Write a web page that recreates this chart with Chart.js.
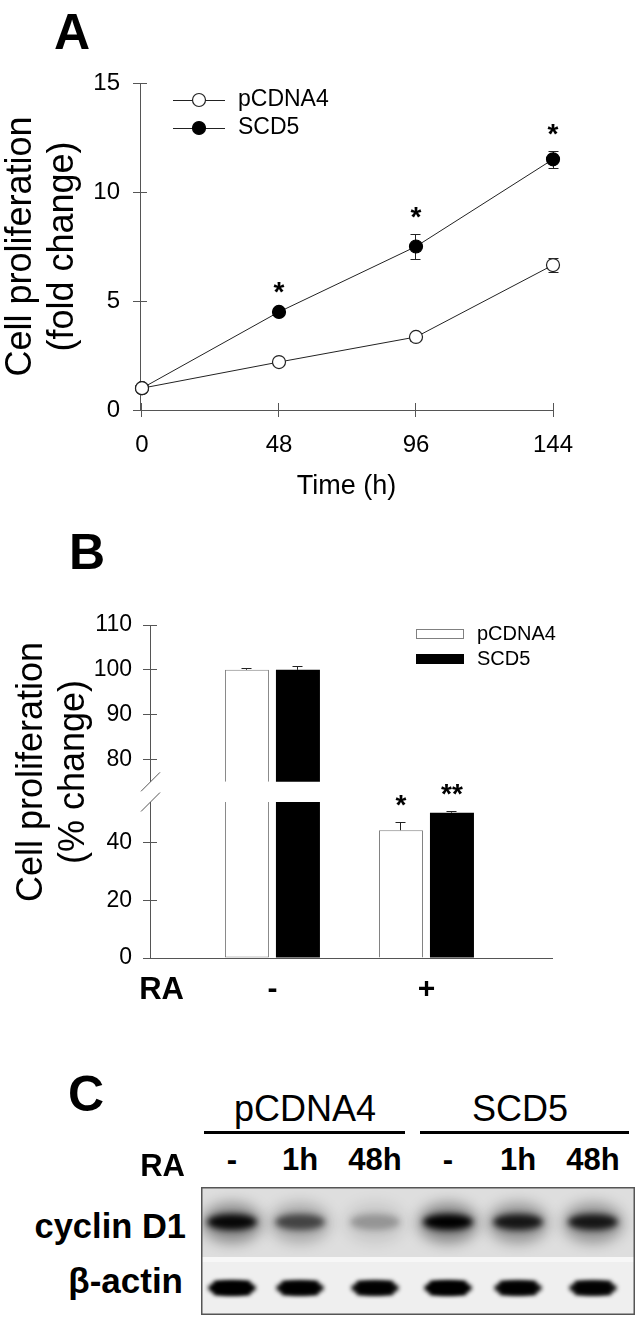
<!DOCTYPE html>
<html>
<head>
<meta charset="utf-8">
<script src="https://cdn.jsdelivr.net/npm/chart.js@4.4.1/dist/chart.umd.min.js"></script>
<style>
body { margin: 0; background: #fff; }
#page { position: relative; width: 642px; height: 1322px; overflow: hidden; background: #fff; color: #000; font-family: 'Liberation Sans', Arial, sans-serif; }
#page canvas { position: absolute; }
.t { position: absolute; line-height: 1; white-space: nowrap; }
</style>
</head>
<body>
<div id="page">
  <canvas id="chartA" width="642" height="500" style="left:0;top:0"></canvas>
  <canvas id="chartB" width="642" height="510" style="left:0;top:500px"></canvas>
  <canvas id="blot" width="434" height="128" style="left:201px;top:1187px"></canvas>
</div>
<script>
// ---- panel A: proliferation over time
const A_HOURS = [0, 48, 96, 144];
const A_PCDNA4 = [1.0, 2.2, 3.35, 6.65];
const A_PCDNA4_ERR = [0.05, 0.1, 0.18, 0.3];
const A_SCD5 = [1.0, 4.5, 7.5, 11.5];
const A_SCD5_ERR = [0.05, 0.12, 0.57, 0.38];
const A_SCD5_SIG = ['', '*', '*', '*'];
const A_Y_TICKS = [0, 5, 10, 15];

// ---- panel B: RA treatment (% change), broken y axis
const B_GROUPS = ['-', '+'];
const B_PCDNA4 = [100, 44.2];
const B_PCDNA4_ERR = [0.4, 2.8];
const B_PCDNA4_SIG = ['', '*'];
const B_SCD5 = [100, 50.3];
const B_SCD5_ERR = [0.9, 0.7];
const B_SCD5_SIG = ['', '**'];
const B_LOWER_TICKS = [0, 20, 40];
const B_UPPER_TICKS = [80, 90, 100, 110];

// ---- panel C: western blot
const C_GROUPS = ['pCDNA4', 'SCD5'];
const C_LANES = ['-', '1h', '48h', '-', '1h', '48h'];
const C_CYCLIN = [0.95, 0.6, 0.25, 1.0, 0.85, 0.85];
const C_ACTIN = [1.0, 0.95, 0.92, 1.0, 0.92, 0.9];

// axis break of panel B
const LOW_MAX = 54, HIGH_MIN = 70.5, BAR_RESTART = 75, HIGH_MAX = 110;

const FONT = "'Liberation Sans', Arial, sans-serif";
const AXIS = '#555';
Chart.defaults.font.family = FONT;
Chart.defaults.color = '#000';

// tick marks that also reach inside the plot (the library only draws the outer half)
const crossTicks = {
  id: 'crossTicks',
  afterDraw(chart, args, o) {
    const ctx = chart.ctx;
    ctx.save();
    ctx.strokeStyle = AXIS;
    ctx.lineWidth = 1;
    Object.values(chart.scales).forEach(s => {
      if (s.options.grid.drawTicks === false) return;
      s.ticks.forEach(t => {
        const p = Math.round(s.getPixelForValue(t.value) - 0.5) + 0.5;
        ctx.beginPath();
        if (s.isHorizontal()) { ctx.moveTo(p, s.top); ctx.lineTo(p, s.top - o.len); }
        else { ctx.moveTo(s.right, p); ctx.lineTo(s.right + o.len, p); }
        ctx.stroke();
      });
    });
    ctx.restore();
  }
};

const errorBars = {
  id: 'errorBars',
  beforeDatasetsDraw(chart, args, o) {
    const ctx = chart.ctx;
    ctx.save();
    ctx.strokeStyle = '#222';
    ctx.lineWidth = 1;
    chart.data.datasets.forEach((ds, di) => {
      if (!ds.yerr) return;
      const meta = chart.getDatasetMeta(di);
      const scale = chart.scales[meta.yAxisID];
      meta.data.forEach((el, i) => {
        const e = ds.yerr[i];
        if (e == null) return;
        const v = meta.controller.getParsed(i).y;
        const x = Math.round(el.x - 0.5) + 0.5;
        const top = Math.round(scale.getPixelForValue(v + e)) + 0.5;
        const bot = ds.oneSided ? el.y : Math.round(scale.getPixelForValue(v - e)) + 0.5;
        ctx.beginPath();
        ctx.moveTo(x, bot); ctx.lineTo(x, top);
        ctx.moveTo(x - o.cap, top); ctx.lineTo(x + o.cap, top);
        if (!ds.oneSided) { ctx.moveTo(x - o.cap, bot); ctx.lineTo(x + o.cap, bot); }
        ctx.stroke();
      });
    });
    ctx.restore();
  },
  afterDatasetsDraw(chart, args, o) {
    const ctx = chart.ctx;
    ctx.save();
    ctx.fillStyle = '#000';
    ctx.font = 'bold 28px ' + FONT;
    ctx.textAlign = 'center';
    ctx.textBaseline = 'alphabetic';
    chart.data.datasets.forEach((ds, di) => {
      if (!ds.marks) return;
      const meta = chart.getDatasetMeta(di);
      const scale = chart.scales[meta.yAxisID];
      meta.data.forEach((el, i) => {
        if (!ds.marks[i]) return;
        const v = meta.controller.getParsed(i).y + (ds.yerr && ds.yerr[i] ? ds.yerr[i] : 0);
        ctx.fillText(ds.marks[i], el.x, scale.getPixelForValue(v) - o.gap);
      });
    });
    ctx.restore();
  }
};

const sideLegend = {
  id: 'sideLegend',
  afterDraw(chart, args, o) {
    const ctx = chart.ctx;
    const seen = [];
    ctx.save();
    chart.data.datasets.forEach(ds => {
      if (seen.includes(ds.label)) return;
      const y = o.y + seen.length * o.rowGap;
      seen.push(ds.label);
      if (o.kind === 'line') {
        ctx.strokeStyle = ds.borderColor;
        ctx.lineWidth = 1;
        ctx.beginPath(); ctx.moveTo(o.x, y + 0.5); ctx.lineTo(o.x + o.len, y + 0.5); ctx.stroke();
        ctx.beginPath(); ctx.arc(o.x + o.len / 2, y, ds.pointRadius, 0, 2 * Math.PI);
        ctx.fillStyle = ds.pointBackgroundColor; ctx.fill();
        ctx.lineWidth = ds.pointBorderWidth; ctx.strokeStyle = ds.pointBorderColor; ctx.stroke();
      } else {
        ctx.fillStyle = ds.backgroundColor;
        ctx.fillRect(o.x, y - o.boxH / 2, o.len, o.boxH);
        if (ds.borderWidth) {
          ctx.strokeStyle = ds.borderColor; ctx.lineWidth = 1;
          ctx.strokeRect(o.x + 0.5, y - o.boxH / 2 + 0.5, o.len - 1, o.boxH - 1);
        }
      }
      ctx.fillStyle = '#000';
      ctx.font = o.font;
      ctx.textAlign = 'left';
      ctx.textBaseline = 'middle';
      ctx.fillText(ds.label, o.textX, y);
    });
    ctx.restore();
  }
};

const axisBreak = {
  id: 'axisBreak',
  afterDraw(chart, args, o) {
    const ctx = chart.ctx;
    const lo = chart.scales.yLow, hi = chart.scales.yHigh;
    const x = Math.round(lo.right - 0.5) + 0.5;
    const y1 = hi.getPixelForValue(BAR_RESTART), y2 = lo.top;
    ctx.save();
    ctx.fillStyle = '#fff';
    ctx.fillRect(x - 2, Math.min(y1, y2), 4, Math.abs(y2 - y1));
    ctx.strokeStyle = AXIS;
    ctx.lineWidth = 1;
    [y1, y2].forEach(y => {
      ctx.beginPath(); ctx.moveTo(x - o.size, y + o.size); ctx.lineTo(x + o.size, y - o.size); ctx.stroke();
    });
    ctx.restore();
  }
};

function axisStyle() {
  return {
    grid: { drawOnChartArea: false, tickLength: 7, color: AXIS },
    border: { color: AXIS, width: 1 }
  };
}

// ---- chart A
new Chart(document.getElementById('chartA'), {
  type: 'line',
  data: {
    datasets: [
      { label: 'pCDNA4', data: A_HOURS.map((h, i) => ({ x: h, y: A_PCDNA4[i] })), yerr: A_PCDNA4_ERR,
        borderColor: '#222', borderWidth: 1, pointRadius: 6.5, pointBackgroundColor: '#fff',
        pointBorderColor: '#222', pointBorderWidth: 1.2, tension: 0, clip: false },
      { label: 'SCD5', data: A_HOURS.map((h, i) => ({ x: h, y: A_SCD5[i] })), yerr: A_SCD5_ERR, marks: A_SCD5_SIG,
        borderColor: '#222', borderWidth: 1, pointRadius: 6.5, pointBackgroundColor: '#000',
        pointBorderColor: '#000', pointBorderWidth: 1.2, tension: 0, clip: false }
    ]
  },
  options: {
    responsive: false, animation: false, devicePixelRatio: 1,
    layout: { padding: { left: 0, right: 89, top: 83, bottom: 0 } },
    plugins: {
      legend: { display: false }, tooltip: { enabled: false },
      crossTicks: { len: 7 },
      errorBars: { cap: 5, gap: 8 },
      sideLegend: { kind: 'line', x: 173, y: 100, rowGap: 28, len: 52, textX: 238, font: '23px ' + FONT }
    },
    scales: {
      x: Object.assign(axisStyle(), {
        type: 'linear', min: -0.7, max: 144,
        afterBuildTicks: s => { s.ticks = A_HOURS.map(v => ({ value: v })); },
        afterFit: s => { s.height = 90; },
        ticks: { font: { size: 24 }, padding: 14, maxRotation: 0, autoSkip: false },
        title: { display: true, text: 'Time (h)', font: { size: 27, lineHeight: 1 }, padding: 0 }
      }),
      y: Object.assign(axisStyle(), {
        min: 0, max: 15,
        afterBuildTicks: s => { s.ticks = A_Y_TICKS.map(v => ({ value: v })); },
        afterFit: s => { s.width = 140; },
        ticks: { font: { size: 24 }, padding: 13 },
        title: { display: true, text: ['Cell proliferation', '(fold change)'], font: { size: 36, lineHeight: 42 / 36 }, padding: 0 }
      })
    }
  },
  plugins: [crossTicks, errorBars, sideLegend]
});

// ---- chart B
const lowPart = vals => vals.map((v, i) => ({ x: i, y: Math.min(v, LOW_MAX) }));
const highPart = vals => vals.map((v, i) => ({ x: i, y: v >= BAR_RESTART ? [BAR_RESTART, v] : null }));
const errWhere = (vals, errs, test) => vals.map((v, i) => (test(v) ? errs[i] : null));
const whiteBar = { backgroundColor: '#fff', borderColor: '#808080', borderWidth: 1 };
const blackBar = { backgroundColor: '#000', borderColor: '#000', borderWidth: 0 };

new Chart(document.getElementById('chartB'), {
  type: 'bar',
  data: {
    datasets: [
      Object.assign({ label: 'pCDNA4', yAxisID: 'yLow', stack: 'p', data: lowPart(B_PCDNA4),
        yerr: errWhere(B_PCDNA4, B_PCDNA4_ERR, v => v <= LOW_MAX), oneSided: true, marks: B_PCDNA4_SIG,
        borderSkipped: c => (B_PCDNA4[c.dataIndex] > LOW_MAX ? 'end' : 'start') }, whiteBar),
      Object.assign({ label: 'SCD5', yAxisID: 'yLow', stack: 's', data: lowPart(B_SCD5),
        yerr: errWhere(B_SCD5, B_SCD5_ERR, v => v <= LOW_MAX), oneSided: true, marks: B_SCD5_SIG }, blackBar),
      Object.assign({ label: 'pCDNA4', yAxisID: 'yHigh', stack: 'p', data: highPart(B_PCDNA4),
        yerr: errWhere(B_PCDNA4, B_PCDNA4_ERR, v => v >= BAR_RESTART), oneSided: true }, whiteBar),
      Object.assign({ label: 'SCD5', yAxisID: 'yHigh', stack: 's', data: highPart(B_SCD5),
        yerr: errWhere(B_SCD5, B_SCD5_ERR, v => v >= BAR_RESTART), oneSided: true }, blackBar)
    ]
  },
  options: {
    responsive: false, animation: false, devicePixelRatio: 1,
    categoryPercentage: 0.662, barPercentage: 0.863,
    layout: { padding: { left: 0, right: 90, top: 125, bottom: 0 } },
    plugins: {
      legend: { display: false }, tooltip: { enabled: false },
      crossTicks: { len: 7 },
      errorBars: { cap: 5, gap: 8 },
      axisBreak: { size: 9.5 },
      sideLegend: { kind: 'box', x: 416, y: 134, rowGap: 25, len: 48, boxH: 10, textX: 477, font: '20px ' + FONT }
    },
    scales: {
      x: {
        type: 'linear', min: -0.795, max: 1.815, offset: false,
        afterBuildTicks: s => { s.ticks = B_GROUPS.map((g, i) => ({ value: i })); },
        afterFit: s => { s.height = 52; },
        grid: { drawOnChartArea: false, drawTicks: false, offset: false },
        border: { color: AXIS, width: 1 },
        ticks: { callback: v => B_GROUPS[v], font: { size: 30, weight: 'bold' }, padding: 14, maxRotation: 0, autoSkip: false }
      },
      // left boxes are laid out in reverse, so the lower segment is listed first
      yLow: Object.assign(axisStyle(), {
        type: 'linear', position: 'left', stack: 'b', stackWeight: 156, stacked: false,
        min: 0, max: LOW_MAX,
        afterBuildTicks: s => { s.ticks = B_LOWER_TICKS.map(v => ({ value: v })); },
        afterFit: s => { s.width = 150; },
        ticks: { font: { size: 23 }, padding: 11 }
      }),
      yHigh: Object.assign(axisStyle(), {
        type: 'linear', position: 'left', stack: 'b', stackWeight: 177, stacked: false,
        min: HIGH_MIN, max: HIGH_MAX,
        afterBuildTicks: s => { s.ticks = B_UPPER_TICKS.map(v => ({ value: v })); },
        afterFit: s => { s.width = 150; },
        ticks: { font: { size: 23 }, padding: 11 }
      })
    }
  },
  plugins: [crossTicks, errorBars, axisBreak, sideLegend]
});

// ---- html text: panel letters and blot labels
const page = document.getElementById('page');
function label(text, x, base, size, weight, align) {
  const d = document.createElement('div');
  d.className = 't';
  d.textContent = text;
  const shift = align === 'center' ? -50 : align === 'right' ? -100 : 0;
  d.style.cssText += `left:${x}px;top:${base - 0.8465 * size}px;font-size:${size}px;font-weight:${weight};transform:translateX(${shift}%);`;
  page.appendChild(d);
  return d;
}
label('A', 72, 49, 50, 'bold', 'center');
label('B', 87, 569, 50, 'bold', 'center');
label('C', 86, 1111, 50, 'bold', 'center');
label('RA', 184, 999, 31, 'bold', 'right');

// y title of panel B, rotated like an axis title
const tb = document.createElement('div');
tb.className = 't';
tb.innerHTML = 'Cell proliferation<br>(% change)';
tb.style.cssText += 'left:-99px;top:730px;width:300px;height:84px;font-size:36px;line-height:42px;text-align:center;transform:rotate(-90deg);';
page.appendChild(tb);

const C_LANE_X = [232, 300, 375, 448, 518, 593];
const C_GROUP_X = [305, 520];
const C_RULES = [[204, 405], [420, 629]];
C_GROUPS.forEach((g, i) => {
  label(g, C_GROUP_X[i], 1121, 36, 'normal', 'center');
  const r = document.createElement('div');
  r.style.cssText = `position:absolute;left:${C_RULES[i][0]}px;top:1131px;width:${C_RULES[i][1] - C_RULES[i][0]}px;height:3px;background:#000;`;
  page.appendChild(r);
});
C_LANES.forEach((l, i) => label(l, C_LANE_X[i], 1170, 31, 'bold', 'center'));
label('RA', 185, 1176, 31, 'bold', 'right');
label('cyclin D1', 186, 1238, 34.5, 'bold', 'right');
label('\u03b2-actin', 183, 1293, 35, 'bold', 'right');

// ---- blot image
(function drawBlot() {
  const c = document.getElementById('blot');
  const g = c.getContext('2d');
  const W = c.width, H = c.height, ox = 201;
  g.fillStyle = '#dedede'; g.fillRect(0, 0, W, 70);
  g.fillStyle = '#f7f7f7'; g.fillRect(0, 70, W, 5);
  g.fillStyle = '#efefef'; g.fillRect(0, 75, W, H - 75);
  C_LANE_X.forEach((lx, i) => {
    const x = lx - ox, k = C_CYCLIN[i], a = C_ACTIN[i];
    // cyclin D1 smear + core
    g.save();
    g.beginPath(); g.rect(0, 0, W, 70); g.clip();
    g.filter = 'blur(7px)';
    g.fillStyle = `rgba(0,0,0,${0.4 * k})`;
    g.beginPath(); g.ellipse(x, 36, 30, 20, 0, 0, 2 * Math.PI); g.fill();
    g.filter = 'blur(3px)';
    g.fillStyle = `rgba(0,0,0,${k})`;
    g.beginPath(); g.ellipse(x, 35, 25, 8, 0, 0, 2 * Math.PI); g.fill();
    g.restore();
    // beta-actin band
    g.save();
    g.filter = 'blur(2px)';
    g.fillStyle = `rgba(0,0,0,${a})`;
    g.beginPath(); g.ellipse(x, 101, 24, 7, 0, 0, 2 * Math.PI); g.fill();
    g.fillRect(x - 18, 94, 36, 14);
    g.restore();
  });
  g.strokeStyle = '#555';
  g.lineWidth = 1.5;
  g.strokeRect(0.75, 0.75, W - 1.5, H - 1.5);
})();
</script>
</body>
</html>
